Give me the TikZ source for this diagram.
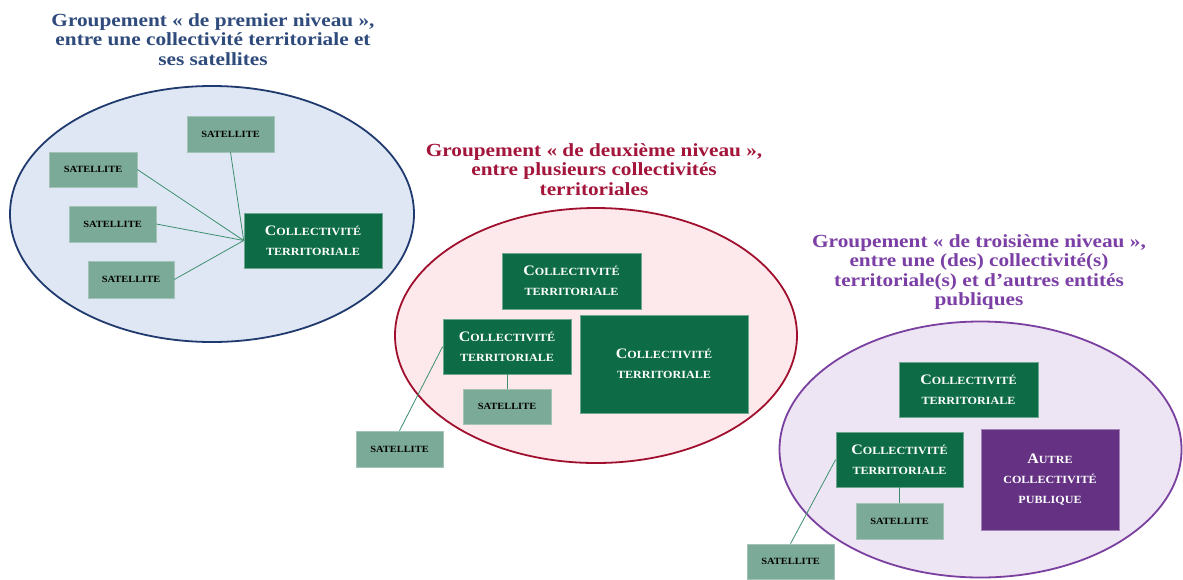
\documentclass[tikz,border=0pt]{standalone}
\usepackage{fontspec}
\setmainfont{Liberation Serif}[FakeStretch=1.1]
\newfontfamily\titlefont{Liberation Serif}[FakeStretch=1.15]
\definecolor{tblue}{HTML}{2F4B7C}
\definecolor{tred}{HTML}{A3153A}
\definecolor{tpurple}{HTML}{7B3FA6}
\definecolor{eoneb}{HTML}{1F3A6E}
\definecolor{eonef}{HTML}{DFE7F4}
\definecolor{etwob}{HTML}{A0102E}
\definecolor{etwof}{HTML}{FDE8EC}
\definecolor{ethreeb}{HTML}{7A40A0}
\definecolor{ethreef}{HTML}{EEE5F4}
\definecolor{ctgreen}{HTML}{0D6C46}
\definecolor{satgreen}{HTML}{7BAA98}
\definecolor{autrep}{HTML}{643183}
\definecolor{linkgreen}{HTML}{3D8F6E}
\newcommand\capl[1]{{\fontsize{14.5}{20}\selectfont #1}}
\begin{document}
\begin{tikzpicture}[x=1pt,y=-1pt,
  title/.style={font=\titlefont\bfseries\fontsize{18.5}{19.5}\selectfont, align=center, inner sep=0pt},
  ct/.style={fill=ctgreen, draw=ctgreen!60!white, line width=0.6pt, text=white,
    font=\bfseries\fontsize{11}{20}\selectfont, align=center, inner sep=0pt},
  autre/.style={ct, fill=autrep, draw=autrep!60!white},
  sat/.style={fill=satgreen, draw=satgreen!70!white, line width=0.6pt, text=black,
    font=\bfseries\fontsize{9.5}{11}\selectfont, inner sep=0pt},
  link/.style={draw=linkgreen, line width=0.8pt},
  grp/.style={line width=1.8pt}]
\useasboundingbox (0,0) rectangle (1183,579);
\fill[white] (0,0) rectangle (1183,579);

% ellipses
\draw[grp, draw=eoneb, fill=eonef] (212,214) ellipse [x radius=202, y radius=128];
\draw[grp, draw=etwob, fill=etwof] (596,335.5) ellipse [x radius=201, y radius=127.5];
\draw[grp, draw=ethreeb, fill=ethreef] (980.5,449.5) ellipse [x radius=201, y radius=128];

% titles
\node[title, text=tblue] (t1) at (213,39.5) {Groupement « de premier niveau »,\\entre une collectivité territoriale et\\ses satellites};
\node[title, text=tred] (t2) at (594,169.5) {Groupement « de deuxième niveau »,\\entre plusieurs collectivités\\territoriales};
\node[title, text=tpurple] (t3) at (979,272) {Groupement « de troisième niveau »,\\entre une (des) collectivité(s)\\territoriale(s) et d’autres entités\\publiques};

% group 1
\node[sat, minimum width=87pt, minimum height=36pt] (s1a) at (230.5,134) {SATELLITE};
\node[sat, minimum width=88pt, minimum height=35pt] (s1b) at (93,169.5) {SATELLITE};
\node[sat, minimum width=87pt, minimum height=36pt] (s1c) at (112.5,224) {SATELLITE};
\node[sat, minimum width=86pt, minimum height=37pt] (s1d) at (131,279.5) {SATELLITE};
\node[ct, minimum width=138pt, minimum height=55pt] (c1) at (313,240.5) {\capl{C}OLLECTIVITÉ\\TERRITORIALE};
\draw[link] (s1a.south) -- (c1.west);
\draw[link] (s1b.east) -- (c1.west);
\draw[link] (s1c.east) -- (c1.west);
\draw[link] (s1d.east) -- (c1.west);

% group 2
\node[ct, minimum width=139pt, minimum height=56pt] (c2a) at (571.5,281) {\capl{C}OLLECTIVITÉ\\TERRITORIALE};
\node[ct, minimum width=128pt, minimum height=55pt] (c2b) at (507,346.5) {\capl{C}OLLECTIVITÉ\\TERRITORIALE};
\node[ct, minimum width=168pt, minimum height=98pt] (c2c) at (664,364) {\capl{C}OLLECTIVITÉ\\TERRITORIALE};
\node[sat, minimum width=88pt, minimum height=35pt] (s2a) at (507,406.5) {SATELLITE};
\node[sat, minimum width=87pt, minimum height=36pt] (s2b) at (399.5,449) {SATELLITE};
\draw[link] (s2a.north) -- (c2b.south);
\draw[link] (c2b.west) -- (s2b.north);

% group 3
\node[ct, minimum width=139pt, minimum height=55pt] (c3a) at (968.5,389.5) {\capl{C}OLLECTIVITÉ\\TERRITORIALE};
\node[ct, minimum width=127pt, minimum height=55pt] (c3b) at (899.5,459.5) {\capl{C}OLLECTIVITÉ\\TERRITORIALE};
\node[autre, minimum width=138pt, minimum height=101pt] (a3) at (1050,479.5) {\capl{A}UTRE\\COLLECTIVITÉ\\PUBLIQUE};
\node[sat, minimum width=87pt, minimum height=36pt] (s3a) at (899.5,521) {SATELLITE};
\node[sat, minimum width=87pt, minimum height=35pt] (s3b) at (790.5,561.5) {SATELLITE};
\draw[link] (s3a.north) -- (c3b.south);
\draw[link] (c3b.west) -- (s3b.north);
\end{tikzpicture}
\end{document}
